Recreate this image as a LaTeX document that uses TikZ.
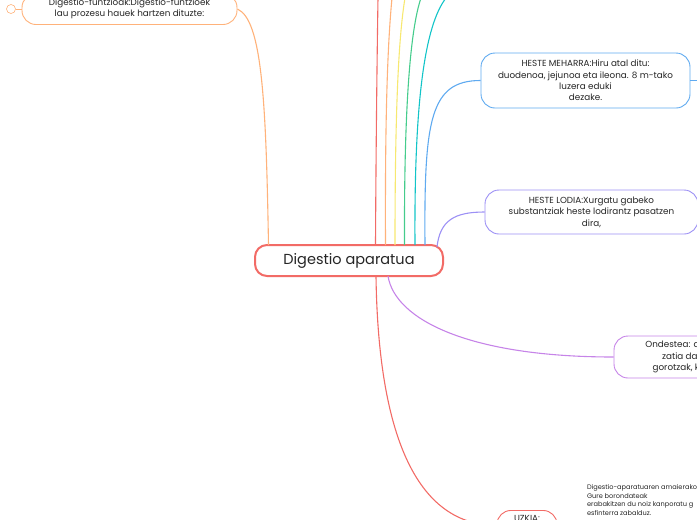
\documentclass[tikz,border=0pt]{standalone}
\usepackage{fontspec}
\setmainfont{Poppins}
\usepackage{tikz}
\usetikzlibrary{positioning}

\definecolor{mred}{HTML}{F26B66}
\definecolor{morange}{HTML}{FFB27A}
\definecolor{myellow}{HTML}{F7E870}
\definecolor{mgreen}{HTML}{45CC8C}
\definecolor{mteal}{HTML}{12C4C8}
\definecolor{mblue}{HTML}{5FAAF0}
\definecolor{mpurple}{HTML}{9C90F5}
\definecolor{mviolet}{HTML}{C684E8}

\begin{document}
\begin{tikzpicture}[x=1pt, y=-1pt, every node/.style={font=\fontsize{8.8}{11.4}\selectfont, text=black!85},
	topic/.style={draw, rounded corners=14pt, fill=white, line width=0.9pt, align=center, inner sep=0pt},
	link/.style={line width=1.1pt}]
	\useasboundingbox (0,0) rectangle (697,520);
	\clip (0,0) rectangle (697,520);
	% central topic
	\node[topic, draw=mred, line width=2pt, rounded corners=12pt, minimum width=188pt, minimum height=31pt, font=\fontsize{14.5}{16}\selectfont] (main) at (349,260.5) {Digestio aparatua};
	% branches
	\node[topic, draw=morange, minimum width=215pt, minimum height=31pt] (funtz) at (129.5,9) {Digestio-funtzioak:Digestio-funtzioek\\ lau prozesu hauek hartzen dituzte:};
	\node[draw=morange, circle, minimum size=9pt, inner sep=0pt, line width=0.6pt] (fold) at (11,9) {};
	\node[topic, draw=mblue, minimum width=209pt, minimum height=55pt] (meharra) at (585.5,80.5) {HESTE MEHARRA:Hiru atal ditu:\\ duodenoa, jejunoa eta ileona. 8 m-tako\\ luzera eduki\\ dezake.};
	\node[topic, draw=mpurple, minimum width=213pt, minimum height=44pt] (lodia) at (591.5,212) {HESTE LODIA:Xurgatu gabeko\\ substantziak heste lodirantz pasatzen\\ dira,};
	\node[topic, draw=mviolet, minimum width=190pt, minimum height=42pt] (ondestea) at (709,357) {};
	\node[anchor=east, align=right] (ondtext) at (703,357) {Ondestea: d\\ zatia da.\\ gorotzak, k};
	\node[topic, draw=mred, minimum width=60pt, minimum height=30pt, anchor=north] (uzkia) at (527,510) {};
	\node[anchor=north] (uztext) at (527,512) {UZKIA:};
	\node[anchor=north west, align=left, font=\fontsize{6.6}{8.7}\selectfont] (oharra) at (583.5,481) {Digestio-aparatuaren amaierako\\ Gure borondateak\\ erabakitzen du noiz kanporatu g\\ esfinterra zabalduz.};
	% free ends off the page
	\coordinate (m1) at (375.5,245); \coordinate (m2) at (385.5,245); \coordinate (m3) at (395,245);
	\coordinate (m4) at (404.5,245); \coordinate (m5) at (415,245); \coordinate (m6) at (425,245);
	\coordinate (m7) at (437,247); \coordinate (m8) at (268.5,245); \coordinate (b1) at (376,276);
	\coordinate (b2) at (388,276);
	\coordinate (t1) at (378,-2); \coordinate (t2) at (392,-2); \coordinate (t3) at (405,-2);
	\coordinate (t4) at (421,-2); \coordinate (t5) at (446,-2); \coordinate (r1) at (700,80.5);
	% connectors
	\draw[link, mred] (m1) .. controls (376,150) and (377,60) .. (t1);
	\draw[link, morange] (m2) .. controls (385,130) and (387,50) .. (t2);
	\draw[link, myellow] (m3) .. controls (395,120) and (398,40) .. (t3);
	\draw[link, mgreen] (m4) .. controls (404,110) and (410,30) .. (t4);
	\draw[link, mteal] (m5) .. controls (414,100) and (425,25) .. (t5);
	\draw[link, mblue] (m6) .. controls (424,120) and (430,80.5) .. (meharra.west);
	\draw[link, mblue] (meharra.east) -- (r1);
	\draw[link, mpurple] (m7) .. controls (440,220) and (455,212) .. (lodia.west);
	\draw[link, morange] (m8) .. controls (266,100) and (262,20) .. (funtz.east);
	\draw[morange, line width=0.6pt] (funtz.west) -- (fold);
	\draw[link, mviolet] (b2) .. controls (395,320) and (470,357) .. (ondestea.west);
	\draw[link, mred] (b1) .. controls (378,420) and (410,525) .. (uzkia.west);
\end{tikzpicture}
\end{document}
